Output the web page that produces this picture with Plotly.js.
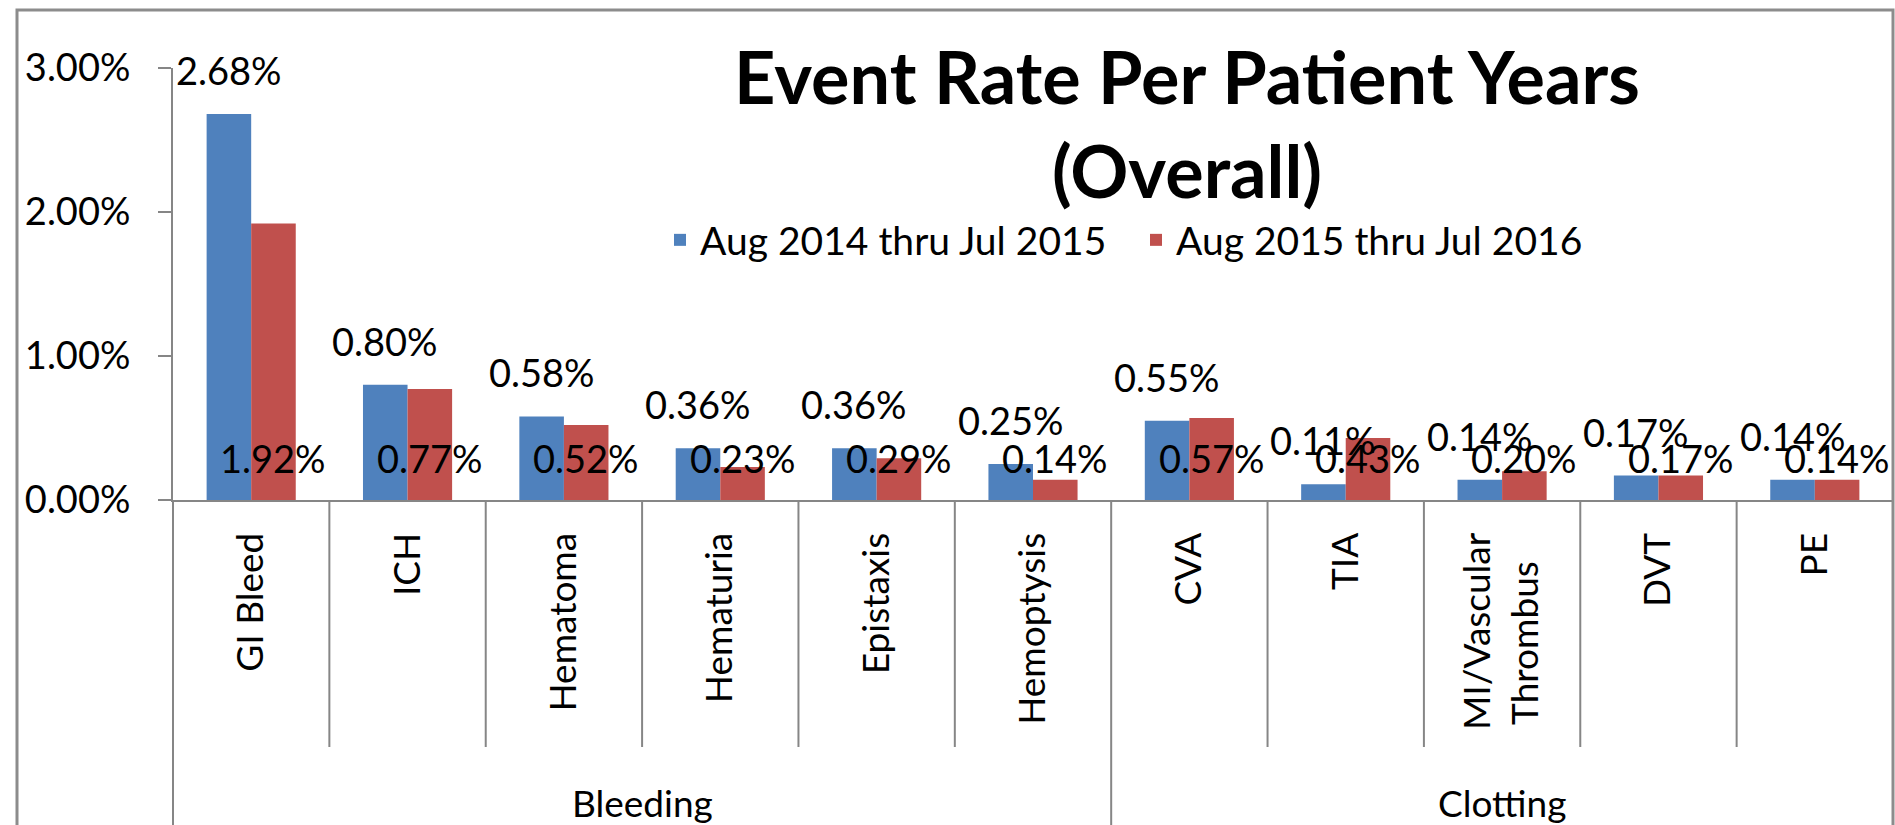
<!DOCTYPE html>
<html>
<head>
<meta charset="utf-8">
<script src="https://cdn.plot.ly/plotly-3.0.1.min.js"></script>
<style>
  html, body { margin: 0; padding: 0; background: #fff; }
  #chart { width: 1895px; height: 825px; }
</style>
</head>
<body>
<div id="chart"></div>
<script>
// categories and their group (bottom row of the axis)
const categories = ["GI Bleed", "ICH", "Hematoma", "Hematuria", "Epistaxis", "Hemoptysis",
                    "CVA", "TIA", "MI/Vascular<br>Thrombus", "DVT", "PE"];
const groupNames = ["Bleeding", "Clotting"];
const groupSizes = [6, 5];

// event rate per patient years, %
const rate2014 = [2.68, 0.80, 0.58, 0.36, 0.36, 0.25, 0.55, 0.11, 0.14, 0.17, 0.14];
const rate2015 = [1.92, 0.77, 0.52, 0.23, 0.29, 0.14, 0.57, 0.43, 0.20, 0.17, 0.14];

const seriesNames = ["Aug 2014 thru Jul 2015", "Aug 2015 thru Jul 2016"];
const yTicks = [0, 1, 2, 3];

const FONT = "Lato, 'Open Sans', sans-serif";
const GREY = "#868686";
const BLUE = "#4F81BD";
const RED = "#C0504D";

const W = 1895, H = 825;
const M = { l: 173, r: 2, t: 68, b: 325 };
const plotW = W - M.l - M.r, plotH = H - M.t - M.b;
const n = categories.length;
const bargap = 0.43;
const barW = plotW / n * (1 - bargap) / 2;

const fmt = (v) => v.toFixed(2) + "%";
const pxY = (px) => -px / plotH;   // px below the x axis -> paper y

// rotated labels are end-aligned; pad the short 2nd line so it sits centred like Excel
const tickText = categories.map((c) => c.split("<br>").map((s, j) =>
  j === 0 ? s : s + "\u00a0".repeat(3)).join("<br>"));

const traces = [
  { type: "bar", name: seriesNames[0], x: categories, y: rate2014, marker: { color: BLUE } },
  { type: "bar", name: seriesNames[1], x: categories, y: rate2015, marker: { color: RED } },
];

const annotations = [];
// data labels: blue above its bar, red in a row near the base
rate2014.forEach((v, i) => annotations.push({
  x: categories[i], y: v, xref: "x", yref: "y", text: fmt(v), showarrow: false,
  xshift: -barW / 2, yshift: 44, yanchor: "middle",
  font: { family: FONT, size: 38, color: "#000" },
}));
rate2015.forEach((v, i) => annotations.push({
  x: categories[i], y: 0, xref: "x", yref: "y", text: fmt(v), showarrow: false,
  xshift: barW / 2, yshift: 42, yanchor: "middle",
  font: { family: FONT, size: 38, color: "#000" },
}));

// group labels + dividers
const shapes = [];
let start = 0;
groupNames.forEach((g, k) => {
  const mid = start + groupSizes[k] / 2;
  annotations.push({
    x: mid / n, y: pxY(302), xref: "paper", yref: "paper", text: g, showarrow: false,
    xanchor: "center", yanchor: "middle",
    font: { family: FONT, size: 37, color: "#000" },
  });
  start += groupSizes[k];
});
const groupEdges = [0];
groupSizes.reduce((acc, s) => { groupEdges.push(acc + s); return acc + s; }, 0);
for (let i = 0; i <= n; i++) {
  const isGroup = groupEdges.includes(i);
  shapes.push({
    type: "line", xref: "paper", yref: "paper",
    x0: i / n, x1: i / n, y0: 0, y1: isGroup ? pxY(340) : pxY(247),
    line: { color: GREY, width: 2 },
  });
}
// outer chart frame
shapes.push({
  type: "rect", xref: "paper", yref: "paper",
  x0: (17 - M.l) / plotW, x1: 1, y0: pxY(340), y1: (plotH + M.t - 10) / plotH,
  line: { color: "#8c8c8c", width: 3 },
});

const layout = {
  width: W, height: H,
  margin: M,
  paper_bgcolor: "#fff", plot_bgcolor: "#fff",
  font: { family: FONT, size: 37, color: "#000" },
  title: {
    text: "<b>Event Rate Per Patient Years<br>(Overall)</b>",
    x: 1187 / W, xanchor: "center", y: 1 - 104 / H, yanchor: "top",
    font: { family: FONT, size: 72, color: "#000" },
  },
  barmode: "group", bargap: bargap, bargroupgap: 0,
  showlegend: true,
  legend: {
    orientation: "h", x: (660 - M.l) / plotW, xanchor: "left",
    y: (plotH - (240 - M.t)) / plotH, yanchor: "middle",
    entrywidth: 431, entrywidthmode: "pixels",
    font: { family: FONT, size: 39, color: "#000" },
    bgcolor: "rgba(0,0,0,0)", traceorder: "normal",
  },
  xaxis: {
    type: "category", range: [-0.5, n - 0.5],
    tickvals: categories, ticktext: tickText,
    showline: true, linecolor: GREY, linewidth: 2,
    ticks: "", tickangle: -90, ticklabelstandoff: 16,
    showgrid: false, zeroline: false,
    tickfont: { family: FONT, size: 37, color: "#000" },
  },
  yaxis: {
    range: [0, 3], tickvals: yTicks, ticktext: yTicks.map(fmt),
    showline: true, linecolor: GREY, linewidth: 2,
    ticks: "outside", ticklen: 13, tickwidth: 2, tickcolor: GREY,
    ticklabelstandoff: 20,
    showgrid: false, zeroline: false,
    tickfont: { family: FONT, size: 38, color: "#000" },
  },
  annotations: annotations,
  shapes: shapes,
  hovermode: false,
};

Plotly.newPlot("chart", traces, layout, { displayModeBar: false, staticPlot: true });
</script>
</body>
</html>
